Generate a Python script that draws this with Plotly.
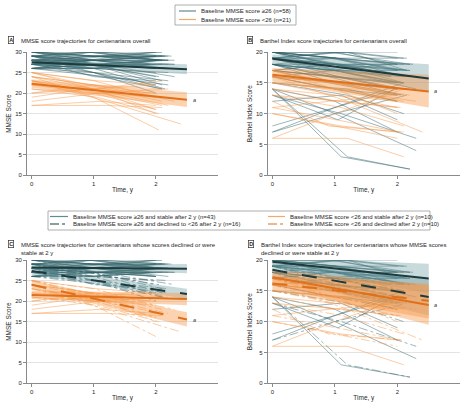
import plotly.graph_objects as go

# ---------------- DATA ----------------
# Visit times (years) per subject, and scores at those visits.
# HS: baseline MMSE >=26, stable; HD: >=26, declined to <26
# LS: baseline MMSE <26, stable; LD: <26, declined
HS_T = [[0,1.0,2.0],[0,0.9,2.1],[0,1.1,2.2],[0,1.0,1.9],[0,1.0,2.0],[0,1.2,2.1],[0,0.95,2.3],
        [0,1.1,2.2],[0,1.05,2.15],[0,0.9,1.9],[0,1.0,2.2],[0,1.1,2.0],[0,1.0,2.3],[0,1.0,2.1],
        [0,1.0,2.0],[0,1.15,2.05],[0,1.0,2.1],[0,0.9,2.2],[0,1.0,2.0],[0,1.05,2.1],[0,1.0,2.25],
        [0,0.95,2.0],[0,1.1,2.1],[0,1.0,2.0],[0,0.85,1.9],[0,1.0,2.15],[0,1.2,2.0],[0,1.0,2.05],
        [0,1.0,2.2],[0,0.9,2.0],[0,1.05,1.95],[0,1.0,2.1],[0,1.1,2.0],[0,1.0,2.3],[0,0.95,2.0],
        [0,1.0,2.1],[0,1.0,2.0],[0,1.1,2.2],[0,0.9,2.0],[0,1.0,1.9],[0,1.0,2.05],[0,1.2,2.15],
        [0,1.0,2.0]]
HS_MMSE = [[30,29,29],[29,30,28],[28,28,29],[30,28,27],[27,28,28],[29,29,30],[28,27,27],
           [26,27,28],[30,30,29],[27,26,27],[29,28,26],[28,29,29],[26,28,27],[30,29,28],
           [27,27,26],[29,27,28],[28,30,30],[27,29,28],[30,28,29],[26,26,27],[29,30,29],
           [28,27,26],[27,28,29],[30,29,30],[29,28,27],[28,28,28],[26,27,26],[27,26,28],
           [29,29,28],[30,30,28],[28,29,27],[27,27,28],[29,28,29],[26,28,28],[28,26,27],
           [30,29,29],[27,28,26],[29,27,27],[28,28,30],[26,27,27],[29,30,28],[27,29,29],
           [28,27,28]]
HS_BI = [[20,19,18],[19,19,17],[20,18,18],[18,17,16],[19,20,18],[20,20,19],[17,18,16],
         [14,3,1],[20,19,19],[18,16,15],[19,18,17],[12,13,9],[14,10,4],[8,11,15],
         [18,19,17],[19,17,16],[20,19,16],[20,20,18],[17,16,14],[16,15,13],[19,19,18],
         [20,18,17],[18,18,16],[7,11,14],[19,17,18],[20,19,17],[15,14,12],[18,17,17],
         [19,18,16],[20,20,20],[13,9,14],[17,16,15],[19,20,19],[16,17,14],[18,16,15],
         [20,19,18],[14,12,7],[19,18,17],[17,18,18],[20,18,16],[18,17,15],[19,20,17],
         [16,14,13]]

HD_T = [[0,1.0,2.0],[0,1.1,2.1],[0,0.9,2.0],[0,1.0,2.2],[0,1.0,2.15],[0,1.05,2.0],[0,1.0,2.1],
        [0,1.2,2.2],[0,1.1,2.3],[0,1.0,2.0],[0,1.0,2.2],[0,1.2,2.1],[0,1.0,2.0],[0,0.9,2.05],
        [0,1.0,2.1]]
HD_MMSE = [[28,25,22],[27,24,21],[29,27,24],[26,25,23],[28,26,21],[27,26,25],[30,27,23],
           [26,24,22],[28,27,24],[27,25,20],[29,26,25],[26,26,22],[28,24,23],[27,27,24],
           [29,25,21]]
HD_BI = [[19,17,15],[18,16,14],[17,15,13],[20,18,16],[7,10,13],[19,16,14],[18,17,15],
         [14,3,1],[13,10,6],[16,14,12],[20,17,16],[15,13,10],[18,15,14],[17,16,13],
         [19,18,15]]

LS_T = [[0,1.2,2.1],[0,1.1,2.0],[0,1.0,2.0],[0,1.0,2.1],[0,0.9,2.0],[0,1.0,2.2],[0,1.05,2.0],
        [0,1.0,1.9],[0,1.0,2.1],[0,1.1,2.0]]
LS_MMSE = [[17,17,16.5],[17,18,17],[22,21,22],[24,22,21],[19,21,20],[21,20,21],[25,23,22],
           [20,22,20],[23,21,23],[18,20,19]]
LS_BI = [[6,6,3],[10,8,7],[17,15,13],[16,14,12],[11,12,13],[15,14,14],[14,13,12],
         [16,15,13],[6,10,14],[13,12,11]]

LD_T = [[0,1.0,2.05],[0,1.0,2.0],[0,1.2,2.4],[0,1.0,2.0],[0,0.9,2.1],[0,1.0,2.2],[0,1.05,2.05],
        [0,1.0,2.0],[0,1.0,2.0],[0,1.1,2.1],[0,1.0,2.3]]
LD_MMSE = [[24,19,11],[25,21,15],[23,18,12.5],[22,20,16],[25,22,18],[24,21,17],[21,19,15],
           [20,21,16],[25,23,19],[23,20,17],[24,22,18]]
LD_BI = [[11,9,7],[17,14,10],[16,12,7],[15,13,11],[12,8,7],[16,15,13],[14,12,11],
         [10,8,6],[17,15,14],[13,11,8],[15,14,12]]

# Model-estimated mean trajectories (t = 0 and t = 2.5) with 95% CI bands
MEAN_T = [0, 2.5]
A_HIGH = [27.5, 25.8]; A_HIGH_LO = [27.0, 24.6]; A_HIGH_HI = [28.0, 27.0]
A_LOW = [22.3, 18.4];  A_LOW_LO = [21.3, 16.6];  A_LOW_HI = [23.3, 20.2]
B_HIGH = [18.9, 15.7]; B_HIGH_LO = [18.2, 13.6]; B_HIGH_HI = [19.6, 18.0]
B_LOW = [16.3, 13.6];  B_LOW_LO = [15.2, 11.0];  B_LOW_HI = [17.4, 16.3]
C_HS = [28.2, 27.9]; C_HS_LO = [27.6, 26.8]; C_HS_HI = [28.8, 29.0]
C_HD = [27.3, 21.7]; C_HD_LO = [26.4, 20.5]; C_HD_HI = [28.2, 23.0]
C_LS = [21.5, 20.5]; C_LS_LO = [20.5, 19.0]; C_LS_HI = [22.5, 22.0]
C_LD = [24.0, 15.5]; C_LD_LO = [23.0, 13.8]; C_LD_HI = [25.0, 17.3]
D_HS = [19.7, 17.0]; D_HS_LO = [19.0, 14.6]; D_HS_HI = [20.4, 19.4]
D_HD = [18.4, 14.0]; D_HD_LO = [17.3, 11.0]; D_HD_HI = [19.5, 17.0]
D_LS = [17.2, 12.7]; D_LS_LO = [16.0, 9.5];  D_LS_HI = [18.4, 15.9]
D_LD = [16.2, 13.4]; D_LD_LO = [15.0, 10.5]; D_LD_HI = [17.4, 16.2]

X_TICKS = [0, 1, 2]
LEG_A = ["Baseline MMSE score ≥26 (n=58)", "Baseline MMSE score &lt;26 (n=21)"]
LEG_C = ["Baseline MMSE score ≥26 and stable after 2 y (n=43)",
         "Baseline MMSE score ≥26 and declined to &lt;26 after 2 y (n=16)",
         "Baseline MMSE score &lt;26 and stable after 2 y (n=10)",
         "Baseline MMSE score &lt;26 and declined after 2 y (n=10)"]

# ---------------- STYLE ----------------
FONT = "Liberation Sans, Arial, sans-serif"
TEAL_IND = "rgba(50,98,106,0.6)"
ORNG_IND = "rgba(245,150,70,0.6)"
TEAL_LEG = "#5f8c91"
ORNG_LEG = "#f5a868"
TEAL_MEAN = "#1d3a3d"
ORNG_MEAN = "#e0701a"
TEAL_BAND = "rgba(100,150,156,0.35)"
ORNG_BAND = "rgba(248,150,70,0.42)"
AX_COL = "#8a8a8a"
TXT = "#262626"

fig = go.Figure()


def add_ind(T, Y, xa, ya, color, dash):
    for t, y in zip(T, Y):
        fig.add_trace(go.Scatter(
            x=t, y=y, xaxis=xa, yaxis=ya, mode="lines",
            line=dict(color=color, width=0.8, dash=dash),
            showlegend=False, hoverinfo="skip"))


def add_band(lo, hi, xa, ya, color):
    fig.add_trace(go.Scatter(
        x=MEAN_T + MEAN_T[::-1], y=lo + hi[::-1], xaxis=xa, yaxis=ya,
        mode="lines", fill="toself", fillcolor=color, line=dict(width=0),
        showlegend=False, hoverinfo="skip"))


def add_mean(m, xa, ya, color, dash):
    fig.add_trace(go.Scatter(
        x=MEAN_T, y=m, xaxis=xa, yaxis=ya, mode="lines",
        line=dict(color=color, width=2, dash=dash),
        showlegend=False, hoverinfo="skip"))


# Panel A (MMSE overall)
add_ind(HS_T + HD_T, HS_MMSE + HD_MMSE, "x", "y", TEAL_IND, "solid")
add_ind(LS_T + LD_T, LS_MMSE + LD_MMSE, "x", "y", ORNG_IND, "solid")
add_band(A_HIGH_LO, A_HIGH_HI, "x", "y", TEAL_BAND)
add_band(A_LOW_LO, A_LOW_HI, "x", "y", ORNG_BAND)
add_mean(A_HIGH, "x", "y", TEAL_MEAN, "solid")
add_mean(A_LOW, "x", "y", ORNG_MEAN, "solid")

# Panel B (Barthel overall)
add_ind(HS_T + HD_T, HS_BI + HD_BI, "x2", "y2", TEAL_IND, "solid")
add_ind(LS_T + LD_T, LS_BI + LD_BI, "x2", "y2", ORNG_IND, "solid")
add_band(B_HIGH_LO, B_HIGH_HI, "x2", "y2", TEAL_BAND)
add_band(B_LOW_LO, B_LOW_HI, "x2", "y2", ORNG_BAND)
add_mean(B_HIGH, "x2", "y2", TEAL_MEAN, "solid")
add_mean(B_LOW, "x2", "y2", ORNG_MEAN, "solid")

# Panel C (MMSE by status)
add_ind(HS_T, HS_MMSE, "x3", "y3", TEAL_IND, "solid")
add_ind(LS_T, LS_MMSE, "x3", "y3", ORNG_IND, "solid")
add_ind(HD_T, HD_MMSE, "x3", "y3", TEAL_IND, "dashdot")
add_ind(LD_T, LD_MMSE, "x3", "y3", ORNG_IND, "dashdot")
for lo, hi, c in [(C_HS_LO, C_HS_HI, TEAL_BAND), (C_HD_LO, C_HD_HI, TEAL_BAND),
                  (C_LS_LO, C_LS_HI, ORNG_BAND), (C_LD_LO, C_LD_HI, ORNG_BAND)]:
    add_band(lo, hi, "x3", "y3", c)
add_mean(C_HS, "x3", "y3", TEAL_MEAN, "solid")
add_mean(C_HD, "x3", "y3", TEAL_MEAN, "longdash")
add_mean(C_LS, "x3", "y3", ORNG_MEAN, "solid")
add_mean(C_LD, "x3", "y3", ORNG_MEAN, "longdash")

# Panel D (Barthel by status)
add_ind(HS_T, HS_BI, "x4", "y4", TEAL_IND, "solid")
add_ind(LS_T, LS_BI, "x4", "y4", ORNG_IND, "solid")
add_ind(HD_T, HD_BI, "x4", "y4", TEAL_IND, "dashdot")
add_ind(LD_T, LD_BI, "x4", "y4", ORNG_IND, "dashdot")
for lo, hi, c in [(D_HS_LO, D_HS_HI, TEAL_BAND), (D_HD_LO, D_HD_HI, TEAL_BAND),
                  (D_LS_LO, D_LS_HI, ORNG_BAND), (D_LD_LO, D_LD_HI, ORNG_BAND)]:
    add_band(lo, hi, "x4", "y4", c)
add_mean(D_HS, "x4", "y4", TEAL_MEAN, "solid")
add_mean(D_HD, "x4", "y4", TEAL_MEAN, "longdash")
add_mean(D_LS, "x4", "y4", ORNG_MEAN, "solid")
add_mean(D_LD, "x4", "y4", ORNG_MEAN, "longdash")

W, H = 467, 408


def px(v):
    return v / W


def py(v):
    return 1 - v / H


def xax(d0, d1, anchor):
    return dict(domain=[px(d0), px(d1)], anchor=anchor, range=[-0.075, 3.0],
                tickvals=X_TICKS, ticks="outside", ticklen=3, tickcolor=AX_COL,
                showline=True, linecolor=AX_COL, linewidth=0.8, showgrid=False,
                zeroline=False, tickfont=dict(size=6, color=TXT),
                title=dict(text="Time, y", font=dict(size=6.5, color=TXT), standoff=1),
                automargin=False, fixedrange=True)


def yax(d0, d1, rng, anchor, title):
    return dict(domain=[py(d1), py(d0)], anchor=anchor, range=rng, dtick=5,
                ticks="outside", ticklen=3, tickcolor=AX_COL, showline=True,
                linecolor=AX_COL, linewidth=0.8, showgrid=True, gridcolor="#e4e4e4",
                gridwidth=0.8, zeroline=False, tickfont=dict(size=6, color=TXT),
                title=dict(text=title, font=dict(size=6.5, color=TXT), standoff=2),
                automargin=False, fixedrange=True)


fig.update_layout(
    width=W, height=H, margin=dict(l=0, r=0, t=0, b=0, autoexpand=False),
    paper_bgcolor="white", plot_bgcolor="white",
    font=dict(family=FONT, size=6, color=TXT),
    xaxis=xax(27, 218, "y"), yaxis=yax(52, 175.3, [0, 30], "x", "MMSE Score"),
    xaxis2=xax(267.7, 460, "y2"), yaxis2=yax(52, 175.3, [0, 20], "x2", "Barthel Index Score"),
    xaxis3=xax(27, 218, "y3"), yaxis3=yax(260, 383.3, [0, 30], "x3", "MMSE Score"),
    xaxis4=xax(267.7, 460, "y4"), yaxis4=yax(260, 383.3, [0, 20], "x4", "Barthel Index Score"),
    showlegend=False,
)

shapes = []


def legend_box(x0, y0, x1, y1):
    shapes.append(dict(type="rect", xref="paper", yref="paper", x0=px(x0), x1=px(x1),
                       y0=py(y1), y1=py(y0), line=dict(color="#9a9a9a", width=0.8),
                       fillcolor="white", layer="above"))


def legend_item(lx0, lx1, y, color, dash, text):
    shapes.append(dict(type="line", xref="paper", yref="paper", x0=px(lx0), x1=px(lx1),
                       y0=py(y), y1=py(y), line=dict(color=color, width=1.2, dash=dash),
                       layer="above"))
    fig.add_annotation(xref="paper", yref="paper", x=px(lx1 + 3), y=py(y), xanchor="left",
                       yanchor="middle", text=text, showarrow=False,
                       font=dict(size=6, family=FONT, color=TXT))


# Legend for panels A/B
legend_box(175, 5, 296, 25)
legend_item(179, 196, 11, TEAL_LEG, "solid", LEG_A[0])
legend_item(179, 196, 19.5, ORNG_LEG, "solid", LEG_A[1])

# Legend for panels C/D
legend_box(48, 211, 430, 230)
legend_item(50, 68, 216.5, TEAL_LEG, "solid", LEG_C[0])
legend_item(50, 68, 224, TEAL_MEAN, "dashdot", LEG_C[1])
legend_item(268, 285, 216.5, ORNG_LEG, "solid", LEG_C[2])
legend_item(268, 285, 224, ORNG_MEAN, "dashdot", LEG_C[3])

# Panel titles with boxed letters
titles = [("A", 8, 40, 19, "MMSE score trajectories for centenarians overall"),
          ("B", 247, 40, 258, "Barthel Index score trajectories for centenarians overall"),
          ("C", 8, 244, 19, "MMSE score trajectories for centenarians whose scores declined or were<br>stable at 2 y"),
          ("D", 248, 244, 259, "Barthel Index score trajectories for centenarians whose MMSE scores<br>declined or were stable at 2 y")]
for letter, bx, by, tx, text in titles:
    fig.add_annotation(xref="paper", yref="paper", x=px(bx), y=py(by), xanchor="left",
                       yanchor="middle", text="<b>" + letter + "</b>", showarrow=False,
                       font=dict(size=5.5, family=FONT, color=TXT),
                       bordercolor="#333", borderwidth=0.7, borderpad=0.5)
    fig.add_annotation(xref="paper", yref="paper", x=px(tx), y=py(by - 4), xanchor="left",
                       yanchor="top", align="left", text=text, showarrow=False,
                       font=dict(size=6, family=FONT, color=TXT))

# significance markers
for xa, ya, yv in [("x", "y", A_LOW[1]), ("x2", "y2", B_LOW[1]),
                   ("x3", "y3", C_LD[1]), ("x4", "y4", D_LS[1])]:
    fig.add_annotation(xref=xa, yref=ya, x=2.56, y=yv, text="<i>a</i>", showarrow=False,
                       xanchor="left", font=dict(size=5.5, family=FONT, color="#333"))

fig.update_layout(shapes=shapes)
fig.write_html("out.html", config={"displayModeBar": False},
               post_script="document.body.style.margin='0';document.body.style.padding='0';"
                           "document.body.style.overflow='hidden';")
